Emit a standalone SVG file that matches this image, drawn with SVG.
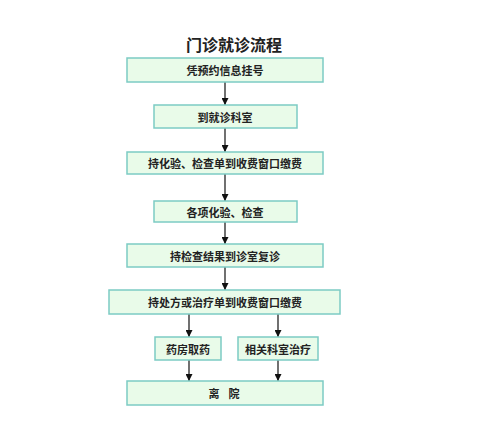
<svg xmlns="http://www.w3.org/2000/svg" width="500" height="423" viewBox="0 0 500 423">
<style>
.box{fill:#e9fbe9;stroke:#7ccbc4;stroke-width:1.5}
.t{font-family:"Noto Sans CJK SC",sans-serif;font-size:11px;font-weight:bold;fill:#222;text-anchor:middle;dominant-baseline:central}
.c{stroke:#111;stroke-width:1.2;fill:none}
</style>
<defs>
<marker id="ah" viewBox="0 0 8 8" refX="8" refY="4" markerWidth="7" markerHeight="7" orient="auto" markerUnits="userSpaceOnUse">
<path d="M0,0 L8,4 L0,8 z" fill="#111"/>
</marker>
</defs>
<rect width="500" height="423" fill="#fff"/>
<text x="234" y="44" font-family="Noto Sans CJK SC,sans-serif" font-size="16" font-weight="bold" fill="#222" text-anchor="middle" dominant-baseline="central">门诊就诊流程</text>
<g id="connectors">
<line class="c" x1="225" y1="82" x2="225" y2="105" marker-end="url(#ah)"/>
<line class="c" x1="225" y1="128" x2="225" y2="152" marker-end="url(#ah)"/>
<line class="c" x1="225" y1="174" x2="225" y2="201" marker-end="url(#ah)"/>
<line class="c" x1="225" y1="222" x2="225" y2="244" marker-end="url(#ah)"/>
<line class="c" x1="225" y1="267" x2="225" y2="290" marker-end="url(#ah)"/>
<line class="c" x1="189" y1="314" x2="189" y2="337" marker-end="url(#ah)"/>
<line class="c" x1="278" y1="314" x2="278" y2="337" marker-end="url(#ah)"/>
<line class="c" x1="189" y1="360" x2="189" y2="381" marker-end="url(#ah)"/>
<line class="c" x1="278" y1="360" x2="278" y2="381" marker-end="url(#ah)"/>
</g>
<g id="n1"><rect class="box" x="127" y="58" width="196" height="24"/><text class="t" x="225" y="70">凭预约信息挂号</text></g>
<g id="n2"><rect class="box" x="154" y="105" width="143" height="23"/><text class="t" x="225" y="116.5">到就诊科室</text></g>
<g id="n3"><rect class="box" x="127" y="152" width="196" height="22"/><text class="t" x="225" y="163">持化验、检查单到收费窗口缴费</text></g>
<g id="n4"><rect class="box" x="154" y="201" width="143" height="21"/><text class="t" x="225" y="211.5">各项化验、检查</text></g>
<g id="n5"><rect class="box" x="127" y="244" width="196" height="23"/><text class="t" x="225" y="255.5">持检查结果到诊室复诊</text></g>
<g id="n6"><rect class="box" x="109" y="290" width="231" height="24"/><text class="t" x="225" y="302">持处方或治疗单到收费窗口缴费</text></g>
<g id="n7"><rect class="box" x="155" y="337" width="66" height="23"/><text class="t" x="188" y="348.5">药房取药</text></g>
<g id="n8"><rect class="box" x="238" y="337" width="80" height="23"/><text class="t" x="278" y="348.5">相关科室治疗</text></g>
<g id="n9"><rect class="box" x="127" y="381" width="196" height="24"/><text class="t" x="214 234" y="393">离院</text></g>
</svg>
